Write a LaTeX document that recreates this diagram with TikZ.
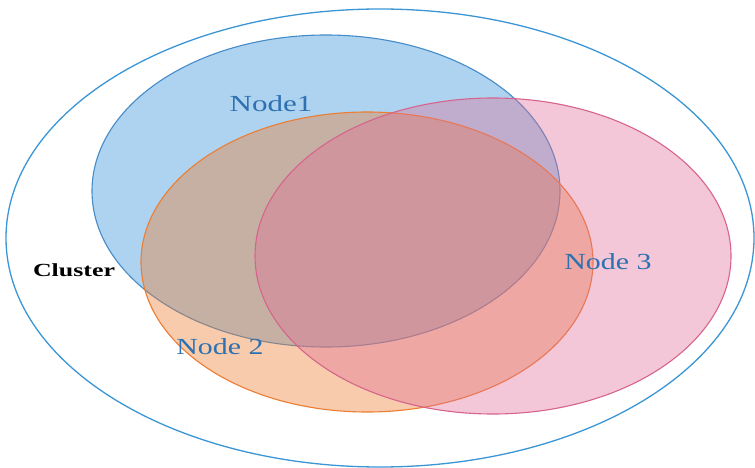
\documentclass[tikz,border=0pt]{standalone}
\usepackage{fontspec}
\setmainfont{Liberation Serif}
\usetikzlibrary{shapes.geometric}
\definecolor{clusterblue}{RGB}{59,150,214}
\definecolor{bluestroke}{RGB}{70,140,200}
\definecolor{bluefill}{RGB}{85,165,225}
\definecolor{orangestroke}{RGB}{237,125,49}
\definecolor{orangefill}{RGB}{237,125,49}
\definecolor{pinkstroke}{RGB}{215,100,140}
\definecolor{pinkfill}{RGB}{225,110,150}
\definecolor{labelblue}{RGB}{46,112,176}
\tikzset{
  setshape/.style={ellipse, inner sep=0pt, line width=1.1pt},
  setlabel/.style={text=labelblue, font=\fontsize{23}{23}\selectfont, inner sep=0pt},
}
\begin{document}
\begin{tikzpicture}[x=1pt,y=-1pt]
\useasboundingbox (0,0) rectangle (755,468);
\fill[white] (0,0) rectangle (755,468);
\node[setshape, draw=clusterblue, line width=1.3pt, minimum width=748pt, minimum height=458pt] (cluster) at (380,238) {};
\node[setshape, draw=bluestroke, fill=bluefill, fill opacity=0.48, minimum width=468pt, minimum height=312pt] (n1) at (326,191) {};
\node[setshape, draw=orangestroke, fill=orangefill, fill opacity=0.4, minimum width=452pt, minimum height=300pt] (n2) at (367,262) {};
\node[setshape, draw=pinkstroke, fill=pinkfill, fill opacity=0.38, minimum width=476pt, minimum height=316pt] (n3) at (493,256) {};
\node[setlabel] (l1) at (271,104) {\scalebox{1.35}[1]{Node1}};
\node[setlabel] (l2) at (220,347) {\scalebox{1.3}[1]{Node 2}};
\node[setlabel] (l3) at (608,262) {\scalebox{1.3}[1]{Node 3}};
\node[font=\fontsize{18.5}{18.5}\selectfont\bfseries, inner sep=0pt] (lc) at (74,270) {\scalebox{1.4}[1]{Cluster}};
\end{tikzpicture}
\end{document}
